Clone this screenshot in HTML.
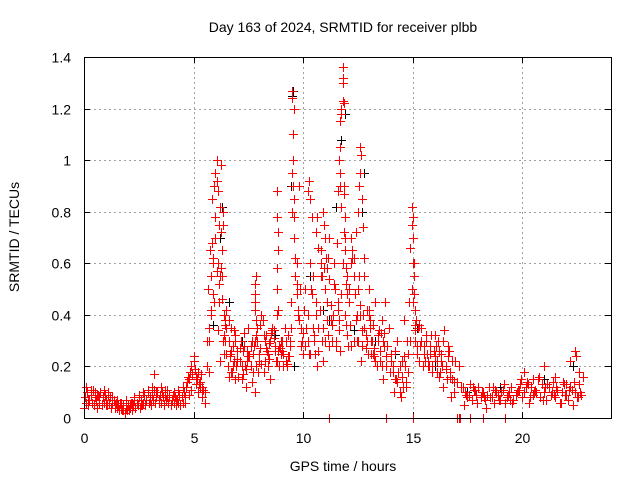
<!DOCTYPE html>
<html><head><meta charset="utf-8"><style>
body{margin:0;background:#fff;}
svg{display:block;font-family:"Liberation Sans",sans-serif;}
</style></head><body>
<svg id="chart" width="640" height="480" viewBox="0 0 640 480">
<rect width="640" height="480" fill="#fff"/>
<text x="343" y="32" font-size="14" text-anchor="middle">Day 163 of 2024, SRMTID for receiver plbb</text>
<text transform="translate(19,237) rotate(-90)" font-size="14" text-anchor="middle">SRMTID / TECUs</text>
<text x="343" y="471" font-size="14" text-anchor="middle">GPS time / hours</text>
<g id="grid"></g>
<g id="ticks"></g>
<g id="black-pts"></g>
<g id="red-pts"></g>
<rect x="84.5" y="57.5" width="527" height="361" fill="none" stroke="#000" stroke-width="1"/>
</svg>
<script>
const xTicks=[0,5,10,15,20];
const yTicks=[0,0.2,0.4,0.6,0.8,1,1.2,1.4];
const yTickLabels=["0","0.2","0.4","0.6","0.8","1","1.2","1.4"];
const redTimes=[
0,0.05,0.1,0.15,0.2,0.25,0.3,0.35,0.4,0.45,0.5,0.55,0.6,0.65,0.7,0.75,0.8,0.85,0.9,0.95,1,1.05,1.1,1.15,1.2,1.25,1.3,1.35,1.4,1.45,1.5,1.55,1.6,1.65,1.7,1.75,1.8,1.85,1.9,1.95,2,2.05,2.1,2.15,2.2,2.25,2.3,2.35,2.4,2.45,2.5,2.55,2.6,2.65,2.7,2.75,2.8,2.85,2.9,2.95,3,3.05,3.1,3.15,3.2,3.25,3.3,3.35,3.4,3.45,3.5,3.55,3.6,3.65,3.7,3.75,3.8,3.85,3.9,3.95,4,4.05,4.1,4.15,4.2,4.25,4.3,4.35,4.4,4.45,4.5,4.55,4.6,
0.1,0.3,0.5,0.7,0.9,1.1,1.3,1.5,1.7,1.9,2.1,2.3,2.5,2.7,2.9,3.1,3.3,3.5,3.7,3.9,4.1,4.3,4.5,
4.65,4.7,4.75,4.8,4.85,4.9,4.95,5,5.05,5.1,5.15,5.2,5.25,5.3,5.35,5.4,5.45,5.5,4.8,4.9,5.0,5.1,5.2,5.3,5.4,5.5,3.2,
5.6,5.65,5.7,5.75,5.8,5.85,5.9,5.95,6.0,6.05,6.1,6.15,6.2,6.25,6.3,6.35,6.4,6.45,6.5,6.55,6.6,6.65,6.7,6.75,6.8,6.85,6.9,6.95,7.0,
5.7,5.8,5.9,6.0,6.1,6.2,6.3,6.4,6.5,6.6,6.7,6.8,6.9,7.0,5.85,6.05,6.25,6.45,6.65,6.85,5.95,6.15,6.35,6.55,
7.1,7.2,7.3,7.4,7.5,7.6,7.7,7.8,7.9,8.0,8.1,8.2,8.3,8.4,8.5,8.6,8.7,8.8,8.9,9.0,9.1,9.2,9.3,
7.15,7.35,7.55,7.75,7.95,8.15,8.35,8.55,8.75,8.95,9.15,9.35,7.25,7.45,7.65,7.85,8.05,8.25,8.45,8.65,8.85,9.05,9.25,
7.8,7.8,7.8,7.8,7.85,7.85,8.8,8.8,8.85,8.85,8.8,8.8,
9.4,9.45,9.5,9.5,9.55,9.55,9.6,9.6,9.65,9.7,9.75,9.8,9.85,9.9,9.95,10.0,9.5,9.55,9.6,9.65,9.7,9.75,9.5,9.6,9.7,
10.1,10.2,10.3,10.4,10.5,10.6,10.7,10.8,10.9,11.0,11.1,11.2,11.3,11.4,11.5,11.6,11.7,11.8,11.9,12.0,
10.15,10.35,10.55,10.75,10.95,11.15,11.35,11.55,11.75,11.95,10.25,10.45,10.65,10.85,11.05,11.25,11.45,11.65,11.85,
10.2,10.25,10.3,10.6,10.65,10.7,10.9,10.95,11.0,11.1,11.15,11.2,10.8,10.85,
11.6,11.65,11.7,11.7,11.75,11.75,11.8,11.8,11.85,11.85,11.9,11.9,11.95,12.0,11.7,11.75,11.8,11.85,11.9,11.95,
12.1,12.2,12.3,12.4,12.5,12.6,12.7,12.8,12.9,13.0,13.1,13.2,13.3,13.4,13.5,13.6,13.7,13.8,13.9,14.0,
12.15,12.35,12.55,12.75,12.95,13.15,13.35,13.55,13.75,13.95,12.25,12.45,12.65,12.85,13.05,13.25,13.45,13.65,13.85,
12.5,12.55,12.6,12.6,12.65,12.7,12.75,12.8,12.2,12.25,12.3,13.0,13.05,
14.1,14.2,14.3,14.4,14.5,14.6,14.7,14.8,14.9,15.0,15.1,15.2,15.3,15.4,15.5,15.6,15.7,15.8,15.9,16.0,16.1,16.2,16.3,16.4,16.5,16.6,16.7,16.8,16.9,17.0,17.1,17.2,
14.15,14.35,14.55,14.75,14.95,15.15,15.35,15.55,15.75,15.95,16.15,16.35,16.55,16.75,16.95,14.25,14.45,14.65,14.85,15.05,15.25,15.45,15.65,15.85,16.05,16.25,16.45,16.65,
14.95,14.95,15.0,15.0,15.05,15.05,15.1,15.1,14.9,14.9,15.0,
17.3,17.4,17.5,17.6,17.7,17.8,17.9,18.0,18.1,18.2,18.3,18.4,18.5,18.6,18.7,18.8,18.9,19.0,19.1,19.2,19.3,19.4,19.5,19.6,19.7,19.8,19.9,20.0,20.1,20.2,20.3,20.4,20.5,20.6,20.7,20.8,20.9,21.0,21.1,21.2,21.3,21.4,21.5,21.6,21.7,21.8,21.9,22.0,22.1,22.2,22.3,22.4,22.5,22.6,22.7,
17.35,17.55,17.75,17.95,18.15,18.35,18.55,18.75,18.95,19.15,19.35,19.55,19.75,19.95,20.15,20.35,20.55,20.75,20.95,21.15,21.35,21.55,21.75,21.95,22.15,22.35,22.55,22.75,
20.1,20.5,21.0,21.5,22.0,22.4,22.45,22.2,22.6,
11.2,13.8,15.0,17.0,17.1,17.15,17.6,18.2,19.2
];
const redValues=[
0.04,0.08,0.06,0.1,0.05,0.07,0.09,0.06,0.11,0.05,0.08,0.07,0.04,0.09,0.06,0.1,0.05,0.08,0.06,0.09,0.07,0.05,0.1,0.06,0.08,0.04,0.06,0.07,0.05,0.06,0.04,0.05,0.03,0.06,0.04,0.03,0.05,0.02,0.04,0.03,0.05,0.03,0.04,0.06,0.03,0.05,0.07,0.04,0.06,0.05,0.08,0.04,0.07,0.05,0.06,0.09,0.05,0.07,0.1,0.06,0.08,0.05,0.09,0.07,0.11,0.06,0.08,0.1,0.07,0.09,0.06,0.1,0.08,0.05,0.09,0.07,0.11,0.06,0.08,0.05,0.07,0.09,0.06,0.08,0.05,0.07,0.06,0.09,0.05,0.08,0.06,0.1,0.08,
0.12,0.11,0.1,0.08,0.11,0.09,0.08,0.07,0.06,0.07,0.05,0.08,0.09,0.1,0.11,0.12,0.1,0.12,0.11,0.09,0.1,0.11,0.12,
0.12,0.14,0.16,0.15,0.18,0.2,0.17,0.22,0.19,0.16,0.15,0.18,0.13,0.14,0.17,0.12,0.11,0.1,0.09,0.11,0.24,0.13,0.1,0.12,0.08,0.06,0.17,
0.2,0.5,0.35,0.65,0.55,0.85,0.48,0.9,0.7,1.0,0.6,0.45,0.82,0.98,0.55,0.75,0.4,0.3,0.42,0.2,0.3,0.25,0.35,0.18,0.28,0.22,0.32,0.2,0.26,
0.3,0.4,0.6,0.78,0.88,0.55,0.65,0.32,0.25,0.38,0.18,0.28,0.15,0.22,0.68,0.57,0.72,0.36,0.24,0.34,0.45,0.52,0.8,0.2,
0.22,0.15,0.28,0.12,0.35,0.2,0.25,0.1,0.3,0.22,0.4,0.18,0.32,0.25,0.15,0.35,0.28,0.4,0.2,0.3,0.25,0.22,0.32,
0.3,0.2,0.24,0.28,0.18,0.38,0.26,0.33,0.22,0.27,0.35,0.24,0.17,0.26,0.14,0.32,0.36,0.22,0.29,0.31,0.42,0.26,0.2,
0.52,0.48,0.45,0.42,0.55,0.38,0.88,0.78,0.72,0.65,0.58,0.5,
0.3,0.45,0.8,1.27,0.9,1.1,0.7,1.2,0.55,0.6,0.4,0.9,0.5,0.35,0.3,0.25,1.24,1.0,0.78,0.62,0.48,0.42,0.95,0.85,0.52,
0.28,0.4,0.6,0.78,0.3,0.45,0.35,0.65,0.22,0.5,0.38,0.7,0.3,0.6,0.28,0.45,0.9,1.3,0.7,0.55,
0.35,0.5,0.25,0.42,0.58,0.32,0.4,0.68,0.48,0.36,0.25,0.55,0.2,0.3,0.62,0.44,0.5,0.38,0.72,
0.88,0.92,0.85,0.72,0.78,0.66,0.8,0.75,0.7,0.58,0.62,0.54,0.6,0.55,
0.88,1.0,1.05,1.15,1.18,1.2,1.36,1.32,1.22,0.9,0.78,0.65,0.58,0.48,0.95,0.82,1.23,0.87,0.7,0.52,
0.45,0.6,0.3,0.72,0.5,0.4,0.28,0.35,0.42,0.5,0.3,0.25,0.45,0.32,0.22,0.38,0.28,0.2,0.35,0.25,
0.36,0.48,0.55,0.4,0.25,0.3,0.2,0.33,0.45,0.18,0.62,0.3,0.22,0.27,0.38,0.24,0.34,0.15,0.28,
0.8,0.9,1.05,0.95,1.02,0.85,0.74,0.62,0.7,0.65,0.55,0.42,0.35,
0.2,0.15,0.3,0.1,0.22,0.38,0.14,0.25,0.3,0.45,0.3,0.25,0.22,0.35,0.28,0.3,0.2,0.25,0.18,0.32,0.22,0.16,0.25,0.12,0.2,0.28,0.18,0.15,0.1,0.14,0.2,0.12,
0.1,0.18,0.12,0.3,0.5,0.38,0.28,0.22,0.2,0.26,0.3,0.2,0.15,0.08,0.22,0.15,0.08,0.2,0.45,0.6,0.35,0.2,0.25,0.32,0.28,0.18,0.34,0.26,
0.82,0.75,0.7,0.6,0.55,0.48,0.42,0.36,0.3,0.66,0.78,
0.12,0.1,0.08,0.13,0.07,0.11,0.09,0.12,0.08,0.1,0.07,0.09,0.12,0.08,0.06,0.1,0.09,0.07,0.11,0.06,0.08,0.1,0.12,0.07,0.09,0.11,0.13,0.08,0.1,0.14,0.06,0.12,0.09,0.11,0.15,0.08,0.13,0.1,0.07,0.12,0.09,0.14,0.08,0.11,0.06,0.1,0.13,0.09,0.07,0.12,0.05,0.1,0.08,0.13,0.09,
0.05,0.09,0.12,0.06,0.1,0.04,0.08,0.11,0.07,0.13,0.09,0.06,0.1,0.15,0.12,0.08,0.1,0.16,0.07,0.13,0.1,0.12,0.06,0.09,0.11,0.14,0.08,0.16,
0.18,0.15,0.2,0.16,0.13,0.26,0.24,0.22,0.18,
0,0,0,0,0,0,0,0,0
];
const extraRedTimes=[
5.6,5.7,5.8,5.9,6.0,6.1,6.2,6.3,6.4,6.5,6.6,6.7,6.8,6.9,7.0,7.1,7.2,7.3,7.4,7.5,7.6,7.7,7.8,7.9,8.0,8.1,8.2,8.3,8.4,8.5,8.6,8.7,8.8,8.9,9.0,9.1,9.2,9.3,9.4,
6.05,6.15,6.25,6.35,6.45,7.05,7.25,7.45,7.65,7.85,8.05,8.25,8.45,8.65,8.85,9.05,9.25,9.45,
9.8,9.9,10.0,10.1,10.2,10.3,10.4,10.5,10.6,10.7,10.8,10.9,11.0,11.1,11.2,11.3,11.4,11.5,11.6,11.7,11.8,11.9,12.0,12.1,12.2,12.3,12.4,12.5,12.6,12.7,12.8,12.9,13.0,13.1,13.2,13.3,13.4,13.5,13.6,13.7,13.8,
10.05,10.45,10.85,11.25,11.65,12.05,12.45,12.85,13.25,13.65,
14.0,14.1,14.2,14.3,14.4,14.5,14.6,14.7,14.8,14.9,15.1,15.2,15.3,15.4,15.5,15.6,15.7,15.8,15.9,16.0,16.1,16.2,16.3,16.4,16.5,16.6,16.7,16.8,16.9,
17.45,17.85,18.25,18.65,19.05,19.45,19.85,20.25,20.65,21.05,21.45,21.85,22.25,22.65,
0.2,0.6,1.0,1.4,1.8,2.2,2.6,3.0,3.4,3.8,4.2,4.6
];
const extraRedValues=[
0.3,0.18,0.42,0.62,0.95,0.34,0.22,0.46,0.25,0.35,0.16,0.26,0.2,0.3,0.23,0.27,0.2,0.33,0.19,0.24,0.28,0.18,0.3,0.35,0.25,0.21,0.32,0.27,0.2,0.3,0.34,0.26,0.22,0.28,0.25,0.2,0.3,0.24,0.28,
0.92,0.75,0.58,0.3,0.38,0.16,0.26,0.22,0.3,0.2,0.27,0.3,0.23,0.34,0.26,0.3,0.21,0.35,
0.38,0.28,0.33,0.5,0.3,0.25,0.48,0.32,0.4,0.26,0.55,0.35,0.3,0.45,0.28,0.36,0.52,0.3,0.42,0.26,0.6,0.4,0.32,0.5,0.28,0.62,0.38,0.3,0.44,0.34,0.55,0.3,0.4,0.25,0.36,0.22,0.3,0.26,0.2,0.33,0.24,
0.42,0.35,0.3,0.38,0.34,0.28,0.4,0.32,0.27,0.3,
0.22,0.18,0.26,0.14,0.2,0.16,0.24,0.12,0.18,0.3,0.34,0.28,0.36,0.3,0.25,0.32,0.22,0.28,0.2,0.24,0.18,0.26,0.22,0.3,0.19,0.24,0.16,0.22,0.14,
0.09,0.11,0.08,0.12,0.1,0.07,0.11,0.13,0.1,0.12,0.09,0.14,0.11,0.1,
0.07,0.09,0.05,0.04,0.03,0.06,0.05,0.07,0.06,0.08,0.07,0.06
];
const blackTimes=[5.9,6.3,6.6,7.2,8.0,8.7,9.5,9.55,9.6,10.3,10.9,11.2,11.5,11.9,12.3,12.7,12.8,13.3,14.2,15.2,16.0,17.5,19.0,21.0,22.3,6.2,9.45,11.75];
const blackValues=[0.36,0.82,0.45,0.3,0.25,0.32,1.25,1.27,0.2,0.55,0.42,0.38,0.82,1.18,0.34,0.8,0.95,0.3,0.25,0.35,0.2,0.1,0.12,0.15,0.2,0.7,0.9,1.08];

const X0=84,X1=611,Y0=418,Y1=57,XMAX=24.05,YMAX=1.4;
function xs(t){return X0+(X1-X0)*t/XMAX;}
function ys(v){return Y0-(Y0-Y1)*v/YMAX;}
const NS="http://www.w3.org/2000/svg";
const grid=document.getElementById('grid'),ticks=document.getElementById('ticks');
function mk(tag,attrs,parent){const e=document.createElementNS(NS,tag);for(const k in attrs)e.setAttribute(k,attrs[k]);parent.appendChild(e);return e;}
yTicks.forEach((v,i)=>{
  const y=Math.round(ys(v))+0.5;
  if(i>0&&i<yTicks.length-1){const g=mk('line',{x1:X0,x2:X1,y1:y,y2:y,stroke:'#a0a0a0','stroke-dasharray':'2,3'},grid);
  
  }
  mk('line',{x1:X0,x2:X0+6,y1:y,y2:y,stroke:'#000'},ticks);
  mk('line',{x1:X1-6,x2:X1,y1:y,y2:y,stroke:'#000'},ticks);
  const t=mk('text',{x:71,y:y+5,'font-size':14,'text-anchor':'end'},ticks);
  t.textContent=yTickLabels[i];
  
  
});
xTicks.forEach((v,i)=>{
  const x=Math.round(xs(v))+0.5;
  if(i>0){const g=mk('line',{x1:x,x2:x,y1:Y1,y2:Y0,stroke:'#a0a0a0','stroke-dasharray':'2,3'},grid);
  
  }
  mk('line',{x1:x,x2:x,y1:Y0-6,y2:Y0,stroke:'#000'},ticks);
  mk('line',{x1:x,x2:x,y1:Y1,y2:Y1+6,stroke:'#000'},ticks);
  const t=mk('text',{x:x,y:443,'font-size':14,'text-anchor':'middle'},ticks);
  t.textContent=String(v);
  
  
});
function plot(times,vals,color,gid,name){
  const g=document.getElementById(gid);let d='';
  for(let i=0;i<times.length;i++){const x=Math.round(xs(times[i]))+0.5,y=Math.round(ys(vals[i]))+0.5;
    d+='M'+(x-4.5)+' '+y+'h9M'+x+' '+(y-4.5)+'v9';}
  const p=mk('path',{d:d,stroke:color,'stroke-width':1,fill:'none'},g);
  
  
}
plot(blackTimes,blackValues,'#000','black-pts','srmtid-series-black');
plot(redTimes,redValues,'#ff0000','red-pts','srmtid-series-red');
plot(extraRedTimes,extraRedValues,'#ff0000','red-pts','srmtid-series-red-extra');
</script>
</body></html>
